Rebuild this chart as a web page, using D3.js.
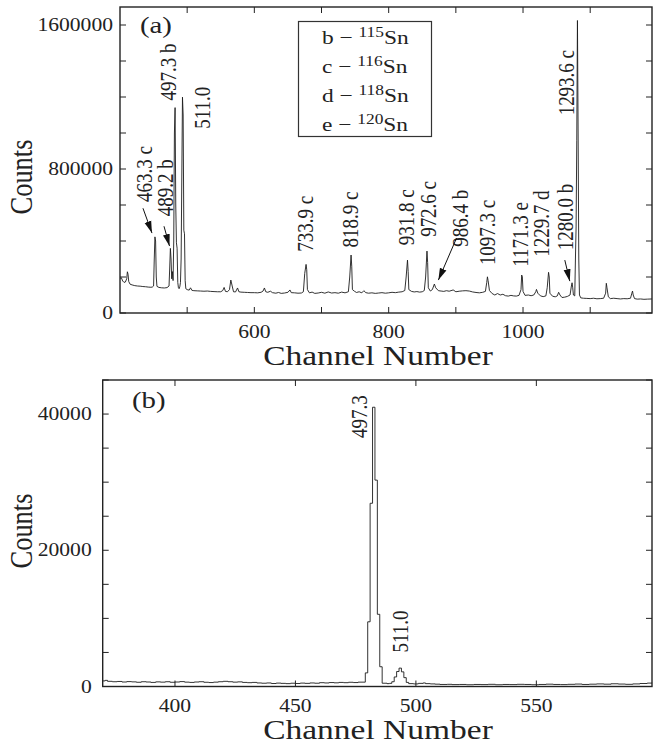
<!DOCTYPE html>
<html>
<head>
<meta charset="utf-8">
<script src="https://cdn.jsdelivr.net/npm/d3@7"></script>
<style>
  body { margin: 0; background: #fff; }
</style>
</head>
<body>
<div id="chart"></div>
<script>
// Gamma spectrum of Sn targets: full range (a) and zoom on the 497 keV line (b)

// ---- data ----
// panel (a): [channel, counts]
const spectrumA = [
  [400,192000],[402,196000],[404,178000],[406,170000],[408,172000],[410,190000],[411,229000],[412,215000],
  [413,175000],[415,160000],[418,156000],[422,152000],[426,150000],[430,149000],[434,147000],[438,146000],
  [442,144000],[446,143000],[448,144000],[450,150000],[451,300000],[452,423000],[453,400000],[454,200000],
  [455,148000],[458,142000],[462,140000],[466,139000],[470,141000],[473,150000],[474,250000],[475,359000],
  [476,300000],[477,190000],[478,230000],[479,180000],[480,400000],[481,1000000],[482,1141000],[483,600000],
  [484,390000],[485,360000],[486,170000],[487,140000],[488,135000],[489,145000],[490,170000],[491,300000],
  [492,750000],[493,1199000],[494,1100000],[495,460000],[496,440000],[497,180000],[498,135000],[500,130000],
  [503,127000],[505,140000],[507,126000],[510,124000],[515,123000],[520,122000],[525,121000],[530,122000],
  [535,120000],[540,119000],[545,118000],[550,118000],[553,125000],[555,142000],[557,120000],[560,118000],
  [563,130000],[565,183000],[567,150000],[569,118000],[572,117000],[575,139000],[577,118000],[580,116000],
  [585,115000],[590,114000],[595,113000],[600,113000],[605,112000],[610,115000],[613,122000],[615,139000],
  [617,118000],[620,115000],[624,121000],[627,113000],[632,110000],[636,114000],[640,109000],[645,111000],
  [650,115000],[653,128000],[655,113000],[660,112000],[665,110000],[670,111000],[673,118000],[675,220000],
  [677,270000],[678,240000],[679,130000],[682,112000],[686,116000],[690,109000],[695,111000],[700,115000],
  [705,110000],[710,117000],[715,111000],[720,113000],[725,110000],[730,116000],[735,112000],[740,118000],
  [742,200000],[744,322000],[745,260000],[746,130000],[749,121000],[752,114000],[756,118000],[760,112000],
  [763,124000],[766,113000],[770,110000],[775,112000],[780,109000],[785,111000],[790,113000],[795,110000],
  [800,112000],[805,115000],[810,113000],[815,116000],[820,118000],[824,125000],[826,200000],[828,294000],
  [829,230000],[830,130000],[834,120000],[838,117000],[842,119000],[846,116000],[850,118000],[853,125000],
  [855,200000],[857,344000],[858,280000],[859,140000],[862,122000],[865,130000],[868,161000],[870,140000],
  [874,124000],[878,122000],[882,120000],[886,124000],[890,121000],[896,128000],[900,118000],[905,121000],
  [910,123000],[915,124000],[920,122000],[925,117000],[930,114000],[935,112000],[940,115000],[944,120000],
  [946,170000],[947,201000],[948,180000],[950,125000],[954,108000],[958,100000],[962,108000],[966,100000],
  [970,104000],[974,96000],[978,94000],[982,98000],[986,95000],[990,94000],[994,98000],[997,130000],
  [998,211000],[999,200000],[1000,120000],[1003,98000],[1008,100000],[1012,96000],[1016,100000],[1019,118000],
  [1020,131000],[1022,110000],[1026,95000],[1030,91000],[1034,95000],[1036,140000],[1038,226000],[1039,200000],
  [1040,110000],[1044,93000],[1048,90000],[1051,95000],[1053,115000],[1055,100000],[1058,86000],[1062,88000],
  [1066,92000],[1070,100000],[1072,150000],[1073,168000],[1074,140000],[1075,100000],[1077,95000],[1078,300000],
  [1079,478000],[1080,960000],[1081,1625000],[1082,1000000],[1083,300000],[1084,100000],[1086,84000],[1090,82000],
  [1095,81000],[1100,80000],[1105,82000],[1110,79000],[1115,80000],[1120,82000],[1123,110000],[1124,165000],
  [1125,140000],[1127,90000],[1130,80000],[1135,82000],[1140,80000],[1145,78000],[1150,80000],[1155,79000],
  [1160,82000],[1162,110000],[1163,122000],[1164,100000],[1166,80000],[1170,77000],[1175,78000],[1180,76000],
  [1185,77000],[1192,78000]
];

// panel (b): histogram bins [first channel, counts]
const spectrumB = [
  [370,820],[371,900],[372,760],[374,700],[376,740],[378,660],[380,720],[382,680],[384,620],[386,700],
  [388,660],[390,600],[392,680],[394,640],[396,700],[398,620],[400,660],[402,720],[404,640],[406,600],
  [408,660],[410,700],[412,620],[414,580],[416,640],[418,700],[420,760],[422,700],[424,640],[426,680],
  [428,600],[430,560],[432,600],[434,520],[436,480],[438,520],[440,440],[442,500],[444,460],[446,420],
  [448,480],[450,440],[452,500],[454,460],[456,520],[458,480],[460,560],[462,520],[464,580],[466,540],
  [468,600],[470,560],[472,620],[474,580],[476,640],[479,2000],[480,9500],[481,26900],[482,41000],
  [483,30300],[484,10600],[485,2900],[486,480],[488,420],[489,460],[490,700],[491,1400],[492,2200],
  [493,2700],[494,2150],[495,1300],[496,600],[497,420],[499,380],[501,460],[503,520],[504,420],[506,380],
  [508,340],[510,300],[513,320],[515,280],[518,300],[521,260],[524,300],[527,280],[530,320],[533,260],
  [536,300],[539,280],[542,320],[545,300],[548,260],[551,300],[554,340],[557,300],[560,280],[563,320],
  [566,360],[569,300],[572,340],[575,380],[578,340],[581,400],[584,360],[587,320],[590,380],[593,440],
  [596,500],[598,540]
];

// peak labels: text, channel of label centre, counts at label foot
const labelsA = [
  ["463.3 c", 435.7, 617000], ["489.2 b", 467, 538000], ["497.3 b", 471.9, 1181000],
  ["511.0", 521.6, 1024000], ["733.9 c", 675.3, 340000], ["818.9 c", 742.3, 364000],
  ["931.8 c", 825.6, 377000], ["972.6 c", 858.8, 423000], ["986.4 b", 906, 368000],
  ["1097.3 c", 945.7, 266000], ["1171.3 e", 995.2, 257000], ["1229.7 d", 1027.5, 312000],
  ["1280.0 b", 1062.2, 349000], ["1293.6 c", 1064.7, 1098000]
];
// arrows: [from channel, from counts, to channel, to counts]
const arrowsA = [
  [434.2, 582000, 447.6, 444000], [465.5, 482000, 473.7, 372000],
  [901, 416000, 874, 183000], [1062.2, 294000, 1069.6, 177000]
];
const labelsB = [["497.3", 476.5, 36500], ["511.0", 493.6, 5000]];

const legendKeys = ["b", "c", "d", "e"];
const legendMass = ["115", "116", "118", "120"];

const yTicksA = d3.range(0, 1700001, 200000);
const yLabelsA = [0, 800000, 1600000];
const xTicksA = d3.range(500, 1101, 100);
const xLabelsA = [600, 800, 1000];
const yTicksB = d3.range(0, 45001, 5000);
const yLabelsB = [0, 20000, 40000];
const xTicksB = [400, 450, 500, 550];

// ---- layout ----
const W = 653, H = 746;
const SX = 1.2;  // the source figure is stretched sideways
const SERIF = "'Liberation Serif', 'Times New Roman', Times, serif";

const svg = d3.select("#chart").append("svg")
  .attr("width", W).attr("height", H)
  .attr("font-family", SERIF);

svg.append("defs").append("marker")
  .attr("id", "arrow")
  .attr("markerUnits", "userSpaceOnUse")
  .attr("viewBox", "0 -4 12 8")
  .attr("refX", 12).attr("refY", 0)
  .attr("markerWidth", 12).attr("markerHeight", 8)
  .attr("orient", "auto")
  .append("path").attr("d", "M0,-3.5L12,0L0,3.5Z").attr("fill", "#111");

function txt(parent, size) {
  return parent.append("text")
    .attr("font-family", SERIF)
    .attr("font-size", size)
    .attr("fill", "#222");
}

function drawPanel(box, xDomain, yDomain, opt) {
  const x = d3.scaleLinear().domain(xDomain).range([box.left, box.right]);
  const y = d3.scaleLinear().domain(yDomain).range([box.bottom, box.top]);
  const g = svg.append("g");
  const tick = 6;

  // spectrum
  const line = d3.line().x(d => x(d[0])).y(d => y(d[1]));
  if (opt.step) line.curve(d3.curveStepAfter);
  g.append("path")
    .datum(opt.data)
    .attr("fill", "none")
    .attr("stroke", "#1c1c1c")
    .attr("stroke-width", 0.9)
    .attr("d", line);

  // ticks, pointing inwards on all four sides
  const ticks = g.append("g").attr("stroke", "#222").attr("stroke-width", 1);
  opt.xTicks.forEach(v => {
    ticks.append("line").attr("x1", x(v)).attr("x2", x(v)).attr("y1", box.bottom).attr("y2", box.bottom - tick);
    ticks.append("line").attr("x1", x(v)).attr("x2", x(v)).attr("y1", box.top).attr("y2", box.top + tick);
  });
  opt.yTicks.forEach(v => {
    ticks.append("line").attr("x1", box.left).attr("x2", box.left + tick).attr("y1", y(v)).attr("y2", y(v));
    ticks.append("line").attr("x1", box.right).attr("x2", box.right - tick).attr("y1", y(v)).attr("y2", y(v));
  });

  // frame
  g.append("rect")
    .attr("x", box.left).attr("y", box.top)
    .attr("width", box.right - box.left).attr("height", box.bottom - box.top)
    .attr("fill", "none").attr("stroke", "#222").attr("stroke-width", 1.4);

  // tick labels
  opt.xLabels.forEach(v => {
    txt(g, 18)
      .attr("transform", `translate(${x(v)},${box.bottom + 25}) scale(${SX},1)`)
      .attr("text-anchor", "middle")
      .text(v);
  });
  opt.yLabels.forEach(v => {
    txt(g, 18)
      .attr("transform", `translate(${box.left - opt.yGap},${y(v) + 6}) scale(${SX},1)`)
      .attr("text-anchor", "end")
      .text(v);
  });

  // axis titles
  txt(g, 27)
    .attr("transform", `translate(${opt.xTitleX},${box.bottom + 52}) scale(1.24,1)`)
    .attr("text-anchor", "middle")
    .text("Channel Number");
  txt(g, 26.5)
    .attr("transform", `translate(${opt.yTitleX},${opt.yTitleY}) scale(1.2,1) rotate(-90)`)
    .attr("text-anchor", "middle")
    .text("Counts");

  // panel tag
  txt(g, 24)
    .attr("transform", `translate(${opt.tagX},${box.top + opt.tagDy}) scale(${SX},1)`)
    .text(opt.tag);

  // peak labels, written upwards
  opt.labels.forEach(([t, ch, c]) => {
    txt(g, 19)
      .attr("transform", `translate(${x(ch)},${y(c)}) scale(${SX},1) rotate(-90)`)
      .attr("dy", "0.35em")
      .text(t);
  });

  (opt.arrows || []).forEach(([c1, v1, c2, v2]) => {
    g.append("line")
      .attr("x1", x(c1)).attr("y1", y(v1))
      .attr("x2", x(c2)).attr("y2", y(v2))
      .attr("stroke", "#111").attr("stroke-width", 1)
      .attr("marker-end", "url(#arrow)");
  });

  return { x, y, g };
}

// panel (a)
const pa = drawPanel({ left: 120, right: 652, top: 7, bottom: 313 }, [400, 1192], [0, 1700000], {
  data: spectrumA, step: false,
  xTicks: xTicksA, xLabels: xLabelsA, yTicks: yTicksA, yLabels: yLabelsA, yGap: 7,
  xTitleX: 378, yTitleX: 32, yTitleY: 177,
  tag: "(a)", tagX: 140, tagDy: 26,
  labels: labelsA, arrows: arrowsA
});

// legend of isotopes
const leg = pa.g.append("g");
leg.append("rect")
  .attr("x", 298.5).attr("y", 21.5).attr("width", 133).attr("height", 115)
  .attr("fill", "#fff").attr("stroke", "#333").attr("stroke-width", 1.2);
legendKeys.forEach((k, i) => {
  const t = txt(leg, 19.5)
    .attr("transform", `translate(322,${44 + i * 29}) scale(${SX},1)`);
  t.append("tspan").text(k + " \u2212 ");
  t.append("tspan").attr("dy", -7).attr("font-size", 14.5).text(legendMass[i]);
  t.append("tspan").attr("dy", 7).text("Sn");
});

// panel (b)
drawPanel({ left: 102.7, right: 652, top: 380, bottom: 686.5 }, [370, 598], [0, 45000], {
  data: spectrumB, step: true,
  xTicks: xTicksB, xLabels: xTicksB, yTicks: yTicksB, yLabels: yLabelsB, yGap: 11,
  xTitleX: 378, yTitleX: 32, yTitleY: 531,
  tag: "(b)", tagX: 132, tagDy: 28,
  labels: labelsB
});
</script>
</body>
</html>
